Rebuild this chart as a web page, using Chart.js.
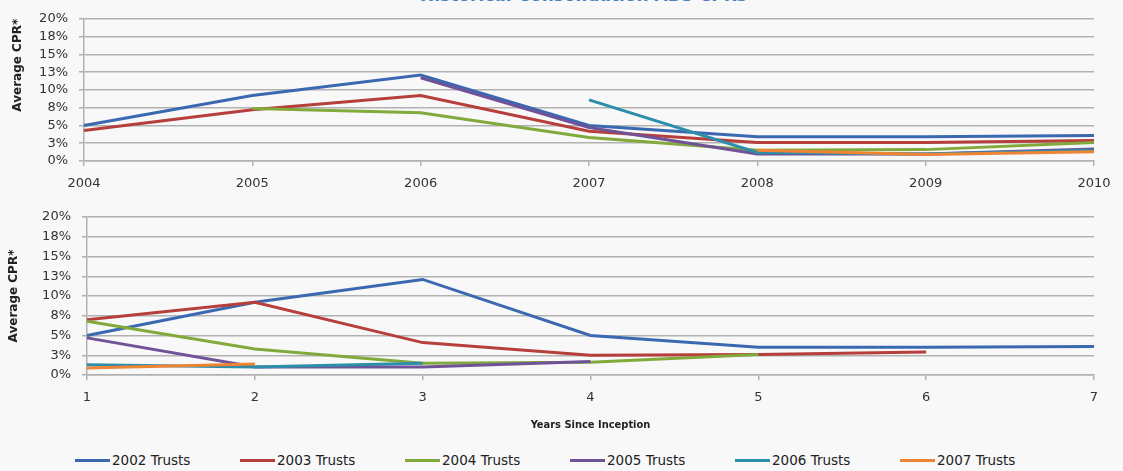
<!DOCTYPE html>
<html>
<head>
<meta charset="utf-8">
<script src="https://cdn.jsdelivr.net/npm/chart.js@4.4.1/dist/chart.umd.min.js"></script>
<style>
  html, body {
    margin: 0;
    padding: 0;
    width: 1123px;
    height: 471px;
    overflow: hidden;
    background: #f8f8f8;
    position: relative;
    font-family: 'DejaVu Sans', sans-serif;
  }
  #title {
    position: absolute;
    left: 22px;
    top: -15px;
    width: 1123px;
    text-align: center;
    font: bold 17px/20px 'DejaVu Sans', sans-serif;
    color: #4a7fc1;
    white-space: nowrap;
  }
  #calWrap { position: absolute; left: 0; top: 0; width: 1123px; height: 195px; }
  #ageWrap { position: absolute; left: 0; top: 195px; width: 1123px; height: 250px; }
  #legend {
    position: absolute;
    left: 75px;
    top: 451px;
    height: 18px;
    display: flex;
    align-items: center;
  }
  .lg-item { width: 165px; display: flex; align-items: center; flex: none; }
  .lg-line { width: 35px; height: 3px; margin-right: 2px; }
  .lg-text { font: 13.5px/18px 'DejaVu Sans', sans-serif; color: #222; white-space: nowrap; }
</style>
</head>
<body>
<div id="title">Historical Consolidation ABS CPRs</div>
<div id="calWrap"><canvas id="calChart"></canvas></div>
<div id="ageWrap"><canvas id="ageChart"></canvas></div>
<div id="legend"></div>

<script>
// Trust vintages and their line colours
const seriesNames = ['2002 Trusts', '2003 Trusts', '2004 Trusts', '2005 Trusts', '2006 Trusts', '2007 Trusts'];
const seriesColors = ['#3a69b2', '#b63e3b', '#82a93c', '#6f5298', '#2c8ea9', '#ee8434'];

// Upper panel: average CPR (%) by calendar year
const calendarYears = ['2004', '2005', '2006', '2007', '2008', '2009', '2010'];
const cal2002 = [5.0, 9.2, 12.1, 5.0, 3.4, 3.4, 3.6];
const cal2003 = [4.3, 7.2, 9.2, 4.2, 2.6, 2.6, 2.9];
const cal2004 = [null, 7.4, 6.8, 3.3, 1.5, 1.6, 2.6];
const cal2005 = [null, null, 11.7, 4.7, 1.0, 1.0, 1.7];
const cal2006 = [null, null, null, 8.6, 1.2, 1.0, 1.5];
const cal2007 = [null, null, null, null, 1.5, 0.9, 1.3];

// Lower panel: average CPR (%) by years since inception
const yearsSince = ['1', '2', '3', '4', '5', '6', '7'];
const age2002 = [5.0, 9.2, 12.1, 5.0, 3.5, 3.5, 3.6];
const age2003 = [7.0, 9.2, 4.1, 2.5, 2.6, 2.9, null];
const age2004 = [6.8, 3.3, 1.5, 1.6, 2.6, null, null];
const age2005 = [4.7, 1.0, 1.0, 1.7, null, null, null];
const age2006 = [1.3, 1.0, 1.5, null, null, null, null];
const age2007 = [0.9, 1.4, null, null, null, null, null];

// Value axis ticks
const cprMin = 0;
const cprMax = 20;
const cprStep = 2.5;

const gridColor = '#b1b1b1';
const tickFont = { family: "'DejaVu Sans', sans-serif", size: 13 };

function buildDatasets(seriesValues) {
  return seriesValues.map((values, i) => ({
    label: seriesNames[i],
    data: values,
    borderColor: seriesColors[i],
    backgroundColor: seriesColors[i],
    borderWidth: 3,
    pointRadius: 0,
    pointHoverRadius: 0,
    tension: 0,
    fill: false,
    spanGaps: false,
    order: seriesValues.length - i
  }));
}

function buildOptions(cfg) {
  return {
    responsive: true,
    maintainAspectRatio: false,
    animation: false,
    events: [],
    layout: { padding: { top: cfg.padTop, right: 29, left: 0, bottom: 0 } },
    plugins: {
      legend: { display: false },
      tooltip: { enabled: false },
      title: { display: false }
    },
    scales: {
      x: {
        type: 'category',
        offset: false,
        afterFit: (scale) => { scale.height = cfg.xHeight; },
        grid: {
          drawOnChartArea: false,
          drawTicks: true,
          tickLength: 5,
          color: gridColor,
          lineWidth: 1.5
        },
        border: { display: true, color: gridColor, width: 1.5 },
        ticks: {
          font: tickFont,
          color: '#333',
          padding: 10,
          maxRotation: 0,
          autoSkip: false
        },
        title: cfg.xTitle ? {
          display: true,
          text: cfg.xTitle,
          font: { family: "'Liberation Sans Narrow', 'DejaVu Sans Condensed', 'DejaVu Sans', sans-serif", size: 11, weight: 'bold' },
          color: '#222',
          padding: { top: 0, bottom: cfg.xTitlePad }
        } : { display: false }
      },
      y: {
        min: cprMin,
        max: cprMax,
        afterFit: (scale) => { scale.width = cfg.yWidth; },
        grid: {
          drawOnChartArea: true,
          drawTicks: true,
          tickLength: 5,
          color: gridColor,
          lineWidth: 1.5
        },
        border: { display: true, color: gridColor, width: 1.5 },
        ticks: {
          stepSize: cprStep,
          autoSkip: false,
          font: tickFont,
          color: '#333',
          padding: 11,
          callback: (v) => Math.round(v) + '%'
        },
        title: {
          display: true,
          text: 'Average CPR*',
          align: cfg.yTitleAlign,
          font: { family: "'DejaVu Sans', sans-serif", size: 12, weight: 'bold' },
          color: '#222',
          padding: { top: cfg.yTitlePad, bottom: 0 }
        }
      }
    }
  };
}

// Legend built from the lower chart's own legend items
const htmlLegend = {
  id: 'htmlLegend',
  afterUpdate(chart) {
    const box = document.getElementById('legend');
    box.innerHTML = '';
    const items = Chart.defaults.plugins.legend.labels.generateLabels(chart)
      .sort((a, b) => a.datasetIndex - b.datasetIndex);
    items.forEach((item) => {
      const el = document.createElement('div');
      el.className = 'lg-item';
      const line = document.createElement('span');
      line.className = 'lg-line';
      line.style.background = item.strokeStyle;
      const txt = document.createElement('span');
      txt.className = 'lg-text';
      txt.textContent = item.text;
      el.appendChild(line);
      el.appendChild(txt);
      box.appendChild(el);
    });
  }
};

new Chart(document.getElementById('calChart'), {
  type: 'line',
  data: {
    labels: calendarYears,
    datasets: buildDatasets([cal2002, cal2003, cal2004, cal2005, cal2006, cal2007])
  },
  options: buildOptions({ padTop: 15, xHeight: 34, yWidth: 84, yTitlePad: 11, yTitleAlign: 'end' })
});

new Chart(document.getElementById('ageChart'), {
  type: 'line',
  data: {
    labels: yearsSince,
    datasets: buildDatasets([age2002, age2003, age2004, age2005, age2006, age2007])
  },
  options: buildOptions({
    padTop: 22, xHeight: 70, yWidth: 87, yTitlePad: 7, yTitleAlign: 'center',
    xTitle: 'Years Since Inception', xTitlePad: 13
  }),
  plugins: [htmlLegend]
});
</script>
</body>
</html>
